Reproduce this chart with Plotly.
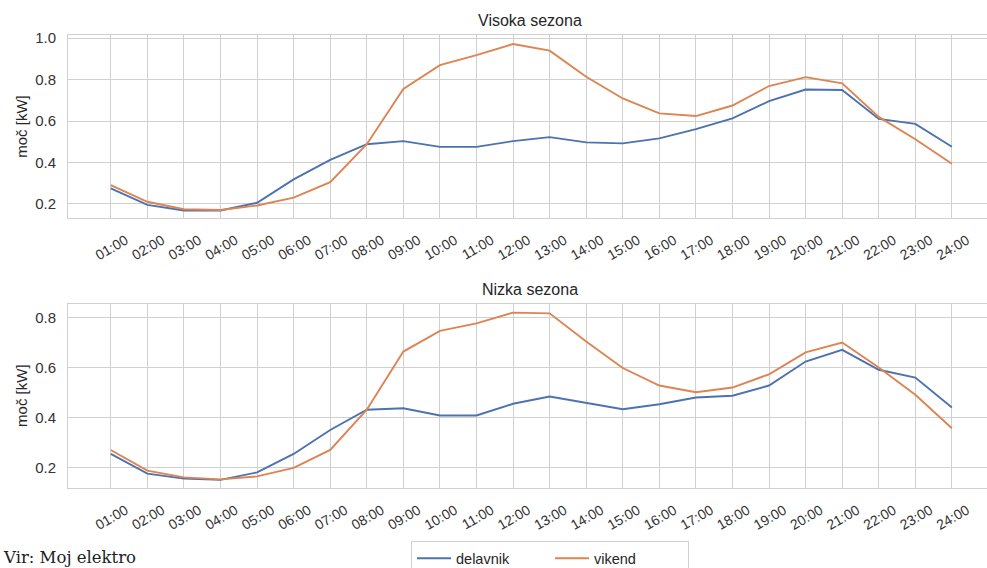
import plotly.graph_objects as go

hours = [f"{h:02d}:00" for h in range(1, 25)]

visoka_delavnik = [0.275, 0.195, 0.168, 0.168, 0.205, 0.318, 0.412, 0.488, 0.503, 0.475, 0.475, 0.503,
                   0.522, 0.497, 0.492, 0.516, 0.561, 0.613, 0.696, 0.752, 0.750, 0.610, 0.586, 0.476]
visoka_vikend = [0.290, 0.210, 0.174, 0.170, 0.192, 0.230, 0.305, 0.488, 0.755, 0.870, 0.918, 0.972,
                 0.940, 0.814, 0.709, 0.637, 0.624, 0.675, 0.769, 0.812, 0.782, 0.620, 0.512, 0.394]

nizka_delavnik = [0.254, 0.175, 0.155, 0.150, 0.180, 0.254, 0.350, 0.431, 0.437, 0.408, 0.408, 0.455,
                  0.484, 0.457, 0.433, 0.453, 0.480, 0.487, 0.528, 0.624, 0.671, 0.591, 0.560, 0.440]
nizka_vikend = [0.270, 0.187, 0.160, 0.152, 0.164, 0.198, 0.270, 0.431, 0.664, 0.747, 0.777, 0.820,
                0.817, 0.704, 0.598, 0.528, 0.501, 0.520, 0.573, 0.661, 0.700, 0.600, 0.491, 0.357]

series_names = ["delavnik", "vikend"]
colors = ["#4C72B0", "#DD8452"]
titles = ["Visoka sezona", "Nizka sezona"]
y_title = "moč [kW]"
source_text = "Vir: Moj elektro"

xs = list(range(len(hours)))

fig = go.Figure()
panels = [(visoka_delavnik, visoka_vikend), (nizka_delavnik, nizka_vikend)]
for p, (d, v) in enumerate(panels):
    xa = "x" if p == 0 else "x2"
    ya = "y" if p == 0 else "y2"
    for s, vals in enumerate((d, v)):
        fig.add_trace(go.Scatter(
            x=xs, y=vals, mode="lines", name=series_names[s],
            line=dict(color=colors[s], width=1.9),
            xaxis=xa, yaxis=ya, showlegend=(p == 0)))

FONT = "Liberation Sans, Arial"
axis_common = dict(
    showgrid=True, gridcolor="#d0d0d0", gridwidth=1,
    showline=True, linecolor="#d0d0d0", linewidth=1, mirror=True,
    zeroline=False, ticks="", automargin=False,
)

xaxis_common = dict(axis_common, tickmode="array", tickvals=xs, ticktext=hours,
                    tickangle=-30, range=[-1.17, 23.96], ticklabelshift=15, ticklabelstandoff=8,
                    tickfont=dict(family=FONT, size=14, color="#333333"))
yaxis_common = dict(axis_common, ticklabelstandoff=8,
                    tickfont=dict(family=FONT, size=15, color="#333333"))

fig.update_layout(
    width=987, height=568,
    margin=dict(l=68, r=0, t=0, b=0, autoexpand=False),
    paper_bgcolor="white", plot_bgcolor="white",
    font=dict(family=FONT, color="#262626"),
    xaxis=dict(xaxis_common, domain=[0, 1], anchor="y"),
    yaxis=dict(yaxis_common, domain=[0.616, 0.938], range=[0.131, 1.0145],
               tickvals=[0.2, 0.4, 0.6, 0.8, 1.0], ticktext=["0.2", "0.4", "0.6", "0.8", "1.0"]),
    xaxis2=dict(xaxis_common, domain=[0, 1], anchor="y2"),
    yaxis2=dict(yaxis_common, domain=[0.141, 0.465], range=[0.118, 0.855],
                tickvals=[0.2, 0.4, 0.6, 0.8], ticktext=["0.2", "0.4", "0.6", "0.8"]),
    legend=dict(orientation="h", x=0.5245, xanchor="center", y=0.047, yanchor="top",
                bordercolor="#d0d0d0", borderwidth=1, bgcolor="white",
                font=dict(family=FONT, size=14.5, color="#262626"),
                itemwidth=34, entrywidthmode="pixels", entrywidth=89),
    showlegend=True,
)

for i, (xd, yd) in enumerate([("x domain", "y domain"), ("x2 domain", "y2 domain")]):
    fig.add_annotation(text=titles[i], xref=xd, yref=yd, x=0.503, y=1.0,
                       yanchor="bottom", showarrow=False, yshift=4,
                       font=dict(family=FONT, size=16, color="#262626"))
    fig.add_annotation(text=y_title, xref="paper", yref=yd, x=-0.05, y=0.5,
                       xanchor="center", yanchor="middle", textangle=-90, showarrow=False,
                       font=dict(family=FONT, size=15, color="#262626"))

fig.add_annotation(text=source_text, xref="paper", yref="paper", x=-0.0725, xanchor="left",
                   y=0.0, yanchor="bottom", yshift=-1, showarrow=False,
                   font=dict(family="DejaVu Serif", size=16.5, color="#222222"))

fig.write_html("out.html", config={"displayModeBar": False},
               post_script="document.body.style.margin='0';document.body.style.overflow='hidden';")
